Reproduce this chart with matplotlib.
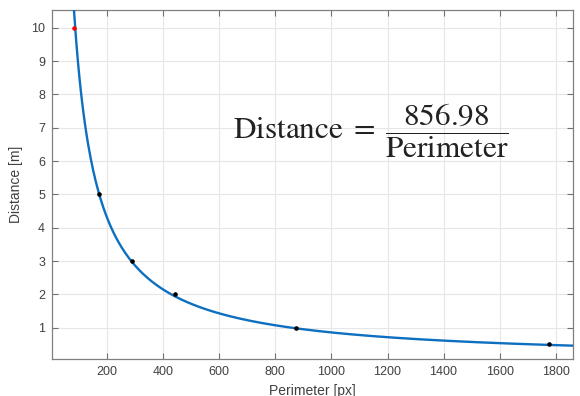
import numpy as np
import matplotlib
matplotlib.use('Agg')
import matplotlib.pyplot as plt

# calibration points (perimeter in px, distance in m)
perim = [170, 289, 440, 874, 1775]
dist = [5, 3, 2, 1, 0.5]
red_perim = [80]
red_dist = [10]
k = 856.98

xticks = [200, 400, 600, 800, 1000, 1200, 1400, 1600, 1800]
yticks = [1, 2, 3, 4, 5, 6, 7, 8, 9, 10]

plt.rcParams['font.family'] = ['Liberation Sans', 'DejaVu Sans']
plt.rcParams['mathtext.fontset'] = 'stix'

fig = plt.figure(figsize=(5.8, 3.96), dpi=100)
ax = fig.add_axes([0.0897, 0.0934, 0.8983, 0.8813])

xs = np.linspace(40, 1870, 600)
ax.plot(xs, k / xs, color='#0d6fc0', lw=1.7, zorder=3)
ax.plot(perim, dist, 'o', color='black', ms=2.3, zorder=4)
ax.plot(red_perim, red_dist, 'o', color='red', ms=2.3, zorder=4)

ax.set_xlim(3, 1862)
ax.set_ylim(0.06, 10.53)
ax.set_xticks(xticks)
ax.set_yticks(yticks)
ax.grid(True, color='#e6e6e6', lw=0.8)
ax.set_axisbelow(True)
ax.tick_params(direction='in', top=True, right=True, length=4, width=0.8,
               color='#707070', labelsize=9, labelcolor='#404040', pad=5)
for s in ax.spines.values():
    s.set_color('#808080')
    s.set_linewidth(0.9)

ax.set_xlabel('Perimeter [px]', fontsize=10, color='#404040', labelpad=4)
ax.set_ylabel('Distance [m]', fontsize=10, color='#404040', labelpad=6)

ax.text(0.612, 0.655, r'$\mathrm{Distance}\;=\;\dfrac{856.98}{\mathrm{Perimeter}}$',
        transform=ax.transAxes, fontsize=22.5, ha='center', va='center', color='#222222')

fig.savefig('out.png', dpi=100)
